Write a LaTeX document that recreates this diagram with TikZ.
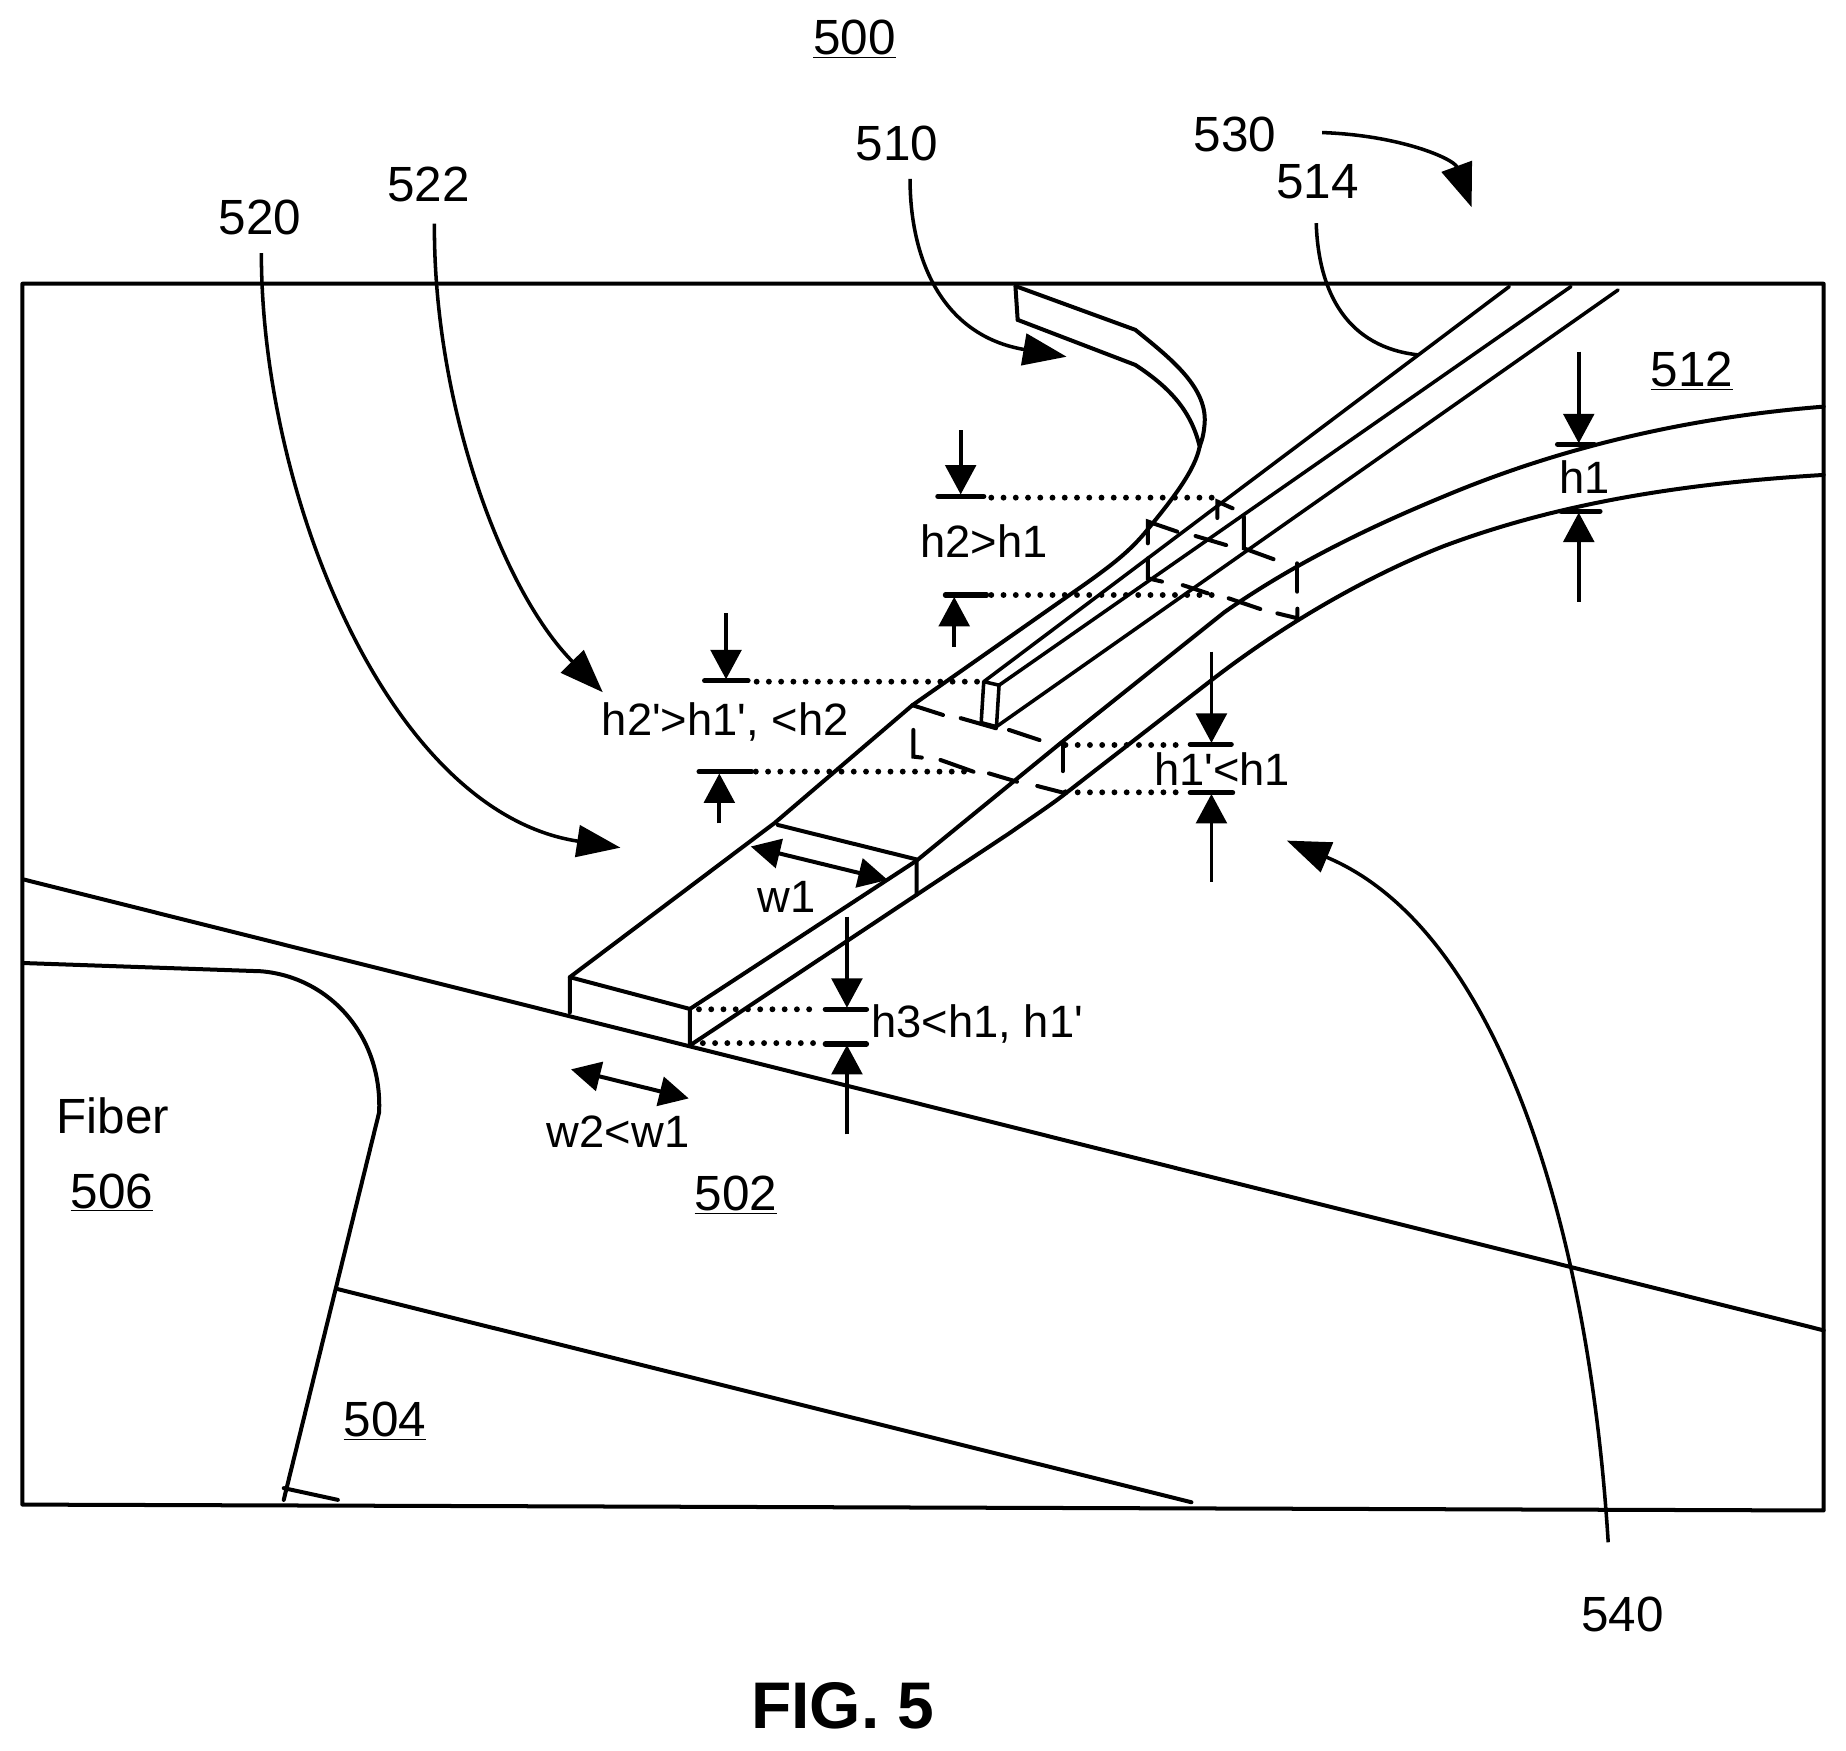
\documentclass[tikz,border=0pt]{standalone}
\usepackage{fontspec}
\setmainfont{Liberation Sans}
\usetikzlibrary{arrows.meta}
\newcommand{\tq}{\textquotesingle}
\tikzset{
  x=1pt,y=-1pt,
  edgeline/.style={line width=3.4pt,line cap=round,line join=round},
  thinedge/.style={line width=3pt,line cap=round,line join=round},
  dimline/.style={line width=3.2pt,-{Triangle[length=25pt,width=26pt]}},
  bigarrow/.style={line width=3pt,-{Triangle[length=37pt,width=27pt]}},
  twoway/.style={line width=3.4pt,{Triangle[length=25pt,width=25pt]}-{Triangle[length=25pt,width=25pt]}},
  leaderline/.style={line width=3pt},
  barline/.style={line width=4.4pt,line cap=round},
  dotline/.style={line width=5pt,line cap=round,dash pattern=on 0pt off 10.4pt},
  dashline/.style={line width=3.4pt,line cap=round},
  lab/.style={font=\fontsize{42}{46}\selectfont,inner sep=0pt},
  dimlab/.style={font=\fontsize{38.5}{42}\selectfont,inner sep=0pt},
  figlab/.style={font=\fontsize{56}{60}\selectfont\bfseries,inner sep=0pt}
}
\begin{document}
\begin{tikzpicture}
\useasboundingbox (0,0) rectangle (1568,1487);
% frame
\draw[edgeline] (19,241) -- (1549,241) -- (1549,1283) -- (19,1278) -- cycle;
% 502 / fibre / 504
\draw[edgeline] (20,747) -- (1549,1130);
\draw[edgeline] (20,818) -- (222,825) .. controls (280,830) and (325,880) .. (322,945) -- (241,1274);
\draw[edgeline] (241,1264) -- (287,1274);
\draw[edgeline] (287,1095) -- (1012,1276);
% end face and first section of the slab
\draw[edgeline] (484,860) -- (484,830) -- (586,857) -- (586,888);
\draw[edgeline] (660.6,700.7) -- (778.6,730) -- (778.6,760);
% slab, left boundary and taper 510
\draw[edgeline] (864.4,271.7) -- (862.5,243) -- (964.4,280.2) .. controls (995,305) and (1027,330) .. (1023,362) .. controls (1022,372) and (1020,376) .. (1019,379.3);
\draw[edgeline] (864.4,271.7) -- (964.4,310) .. controls (995,330) and (1012,350) .. (1019,379.3) .. controls (1015,400) and (995,425) .. (974.6,450) .. controls (960,468) and (945,480) .. (909,505) -- (775,599) -- (658,699) -- (484,830);
% slab, right boundary and 512
\draw[edgeline] (586,857) -- (778.6,731) -- (900.6,631.4) -- (1040,520) .. controls (1100,478) and (1165,447) .. (1226,421.8) .. controls (1330,378) and (1440,354) .. (1549,345.4);
\draw[edgeline] (586,888) -- (778.6,760) -- (857,708) .. controls (880,692) and (895,682) .. (905,674) -- (1030,577) .. controls (1095,527) and (1165,488) .. (1226,464) .. controls (1330,425) and (1440,410) .. (1549,403.4);
% ridge
\draw[thinedge] (1282,243.4) -- (835.6,579) -- (848.6,582) -- (1334.4,243.4);
\draw[thinedge] (835.6,579) -- (833.4,613.8) -- (846.4,617.2) -- (848.6,582);
\draw[thinedge] (846.4,617.2) -- (1374.4,246.3);
% dashed section near 522
\draw[dashline] (775,599) -- (801,607.3);
\draw[dashline] (816,610) -- (846,618.6);
\draw[dashline] (857,620) -- (883,628.6);
\draw[dashline] (902.7,630) -- (902.7,655);
\draw[dashline] (775.8,620) -- (775.8,642.7) -- (783,643.5);
\draw[dashline] (798.8,645.5) -- (826.9,655.5);
\draw[dashline] (840,656.9) -- (863.8,664);
\draw[dashline] (881,667.6) -- (905,673.8);
% dashed section near 510
\draw[dashline] (975,461.5) -- (975,443) -- (1000,451.6);
\draw[dashline] (1015.5,455.3) -- (1041.5,463);
\draw[dashline] (1034,440) -- (1034,426) -- (1047,431.8);
\draw[dashline] (1056.6,439) -- (1056.6,465.8) -- (1081.8,475);
\draw[dashline] (1102,478.5) -- (1102,502.6);
\draw[dashline] (975,474.3) -- (975,491.2) -- (987,494);
\draw[dashline] (1004.6,497) -- (1026,504);
\draw[dashline] (1043.6,508.2) -- (1070.5,517.3);
\draw[dashline] (1085,521) -- (1102,525.2) -- (1102,517);
% dimension h2
\draw[barline] (796.6,421.6) -- (835.6,421.6);
\draw[dotline] (842,422.7) -- (1032,422.7);
\draw[dimline] (816,365.3) -- (816,420);
\draw[barline] (803,505.4) -- (838,505.4);
\draw[dotline] (842,505.4) -- (1032,505.4);
\draw[dimline] (810.5,549.3) -- (810.5,507);
% dimension h2'
\draw[barline] (598.5,578.2) -- (635.4,578.2);
\draw[dotline] (642.7,579) -- (833,579);
\draw[dimline] (616.7,521) -- (616.7,577);
\draw[barline] (593.8,655.4) -- (638.4,655.4);
\draw[dotline] (642,655.4) -- (827,655.4);
\draw[dimline] (611,699.3) -- (611,657);
% dimension h1'
\draw[barline] (1011,632.2) -- (1045.8,632.2);
\draw[dotline] (905,632.8) -- (1007,632.8);
\draw[dimline] (1029,553.5) -- (1029,631);
\draw[barline] (1011,673.3) -- (1047,673.3);
\draw[dotline] (905,673) -- (1006,673);
\draw[dimline] (1029,749) -- (1029,674.4);
% dimension h3
\draw[barline] (701,857.3) -- (736,857.3);
\draw[dotline] (593.7,857.3) -- (697.6,857.3);
\draw[dimline] (719.4,778.6) -- (719.4,856);
\draw[barline] (701,886.7) -- (736,886.7);
\draw[dotline] (597,886) -- (697,886);
\draw[dimline] (719.4,963.5) -- (719.4,887.6);
% dimension h1
\draw[dimline] (1341,298.6) -- (1341,376.5);
\draw[barline] (1323,377.3) -- (1354,377.3);
\draw[dimline] (1341,511) -- (1341,435.4);
\draw[barline] (1326,434.3) -- (1359,434.3);
% widths
\draw[twoway] (637.7,719) -- (754,747.4);
\draw[twoway] (485,908.3) -- (585,933);
% leaders
\draw[bigarrow] (222,215) .. controls (222,420) and (330,690) .. (527,720);
\draw[bigarrow] (369,190) .. controls (368,340) and (425,500) .. (512,588);
\draw[bigarrow] (773,152) .. controls (773,220) and (800,285) .. (906,303);
\draw[bigarrow] (1123,112.6) .. controls (1190,115) and (1235,135) .. (1250,176);
\draw[leaderline] (1118,189.6) .. controls (1120,250) and (1145,295) .. (1205,301.5);
\draw[bigarrow] (1366,1310) .. controls (1350,1050) and (1275,790) .. (1093,714);
% labels
\node[lab] (n500) at (726,33) {\underline{500}};
\node[lab] (n530) at (1049,114) {530};
\node[lab] (n514) at (1119,154) {514};
\node[lab] (n510) at (762,122) {510};
\node[lab] (n522) at (364,157) {522};
\node[lab] (n520) at (221,185) {520};
\node[lab] (n512) at (1437,315) {\underline{512}};
\node[dimlab] (nh1) at (1346,405) {h1};
\node[dimlab] (nh2) at (836,460) {h2>h1};
\node[dimlab] (nh2p) at (616,613) {h2\tq>h1\tq, <h2};
\node[dimlab] (nh1p) at (1038,653) {h1\tq<h1};
\node[dimlab] (nw1) at (668,762) {w1};
\node[dimlab] (nh3) at (830,870) {h3<h1, h1\tq};
\node[dimlab] (nw2) at (525,961) {w2<w1};
\node[lab] (nfib) at (96,948) {Fiber};
\node[lab] (n506) at (95,1013) {\underline{506}};
\node[lab] (n502) at (625,1015) {\underline{502}};
\node[lab] (n504) at (327,1207) {\underline{504}};
\node[lab] (n540) at (1378,1371) {540};
\node[figlab] (nfig) at (716,1449) {FIG. 5};
\end{tikzpicture}
\end{document}
